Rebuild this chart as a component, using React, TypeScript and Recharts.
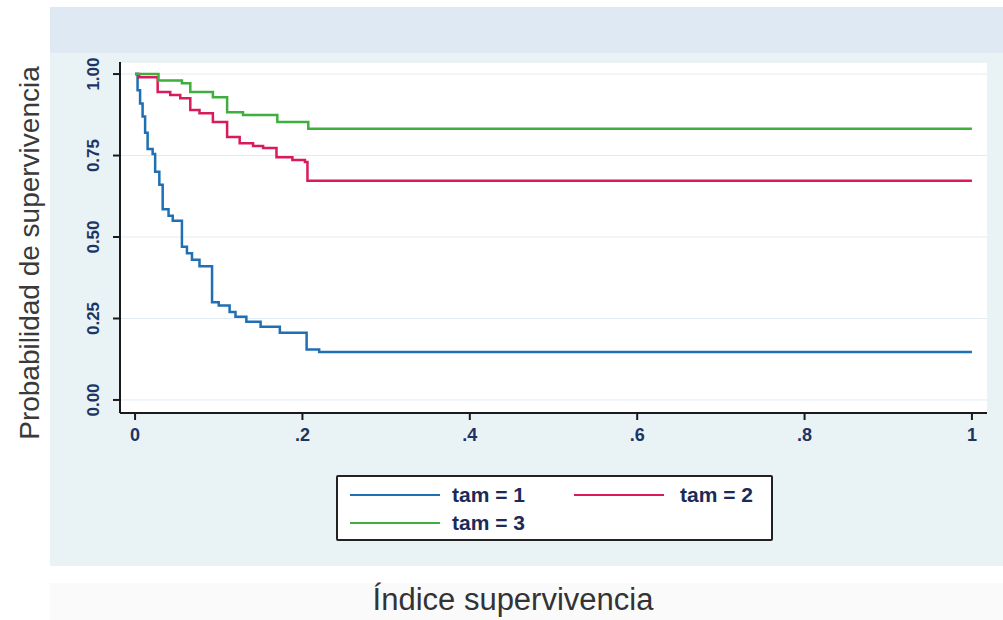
import React from 'react';
import { LineChart, Line, XAxis, YAxis, CartesianGrid, Legend } from 'recharts';

// Kaplan-Meier style step curves
const tam1Times = [0, 0.003, 0.006, 0.009, 0.012, 0.015, 0.021, 0.024, 0.029, 0.033, 0.04, 0.045, 0.056, 0.062, 0.068, 0.077, 0.092, 0.1, 0.113, 0.12, 0.133, 0.15, 0.173, 0.205, 0.22, 1];
const tam1Surv = [1, 0.95, 0.91, 0.87, 0.82, 0.77, 0.755, 0.7, 0.66, 0.585, 0.565, 0.55, 0.47, 0.45, 0.43, 0.41, 0.3, 0.29, 0.27, 0.255, 0.24, 0.225, 0.206, 0.155, 0.147, 0.147];

const tam2Times = [0, 0.005, 0.027, 0.042, 0.054, 0.066, 0.077, 0.093, 0.11, 0.125, 0.141, 0.153, 0.169, 0.188, 0.203, 0.206, 1];
const tam2Surv = [1, 0.99, 0.945, 0.936, 0.926, 0.89, 0.88, 0.853, 0.807, 0.788, 0.779, 0.773, 0.745, 0.736, 0.73, 0.673, 0.673];

const tam3Times = [0, 0.028, 0.056, 0.066, 0.093, 0.11, 0.129, 0.17, 0.207, 1];
const tam3Surv = [1, 0.98, 0.972, 0.945, 0.929, 0.883, 0.874, 0.853, 0.832, 0.832];

const seriesNames = ['tam = 1', 'tam = 2', 'tam = 3'];
const seriesColors = ['#1f6fb4', '#d81b5c', '#3fae3f'];

const xTicks = [0, 0.2, 0.4, 0.6, 0.8, 1];
const xTickLabels = ['0', '.2', '.4', '.6', '.8', '1'];
const yTicks = [0, 0.25, 0.5, 0.75, 1];
const yTickLabels = ['0.00', '0.25', '0.50', '0.75', '1.00'];

const toPoints = (times: number[], surv: number[]) => times.map((t, i) => ({ t, s: surv[i] }));

const series = [
  toPoints(tam1Times, tam1Surv),
  toPoints(tam2Times, tam2Surv),
  toPoints(tam3Times, tam3Surv),
];

const tickColor = '#1c3564';

const YTick = (props: any) => {
  const { x, y, payload } = props;
  const i = yTicks.indexOf(payload.value);
  const tx = x - 12;
  return (
    <text x={tx} y={y} transform={`rotate(-90 ${tx} ${y})`} textAnchor="middle" fill={tickColor}
      fontSize={17} fontWeight="bold" fontFamily="Liberation Sans, Arial, sans-serif">
      {yTickLabels[i]}
    </text>
  );
};

const XTick = (props: any) => {
  const { x, y, payload } = props;
  const i = xTicks.indexOf(payload.value);
  return (
    <text x={x} y={y + 19} textAnchor="middle" fill={tickColor} fontSize={18} fontWeight="bold"
      fontFamily="Liberation Sans, Arial, sans-serif">
      {xTickLabels[i]}
    </text>
  );
};

const LegendBox = () => (
  <div style={{
    position: 'absolute', left: 336, top: 475, width: 433, height: 62, background: '#fff',
    border: '2px solid #222', borderRadius: 2, fontFamily: 'Liberation Sans, Arial, sans-serif',
    fontWeight: 'bold', fontSize: 21, color: '#1c2a58',
  }}>
    {seriesNames.map((name, i) => {
      const col = i % 2;
      const row = Math.floor(i / 2);
      const left = col === 0 ? 12 : 236;
      const top = row === 0 ? 8 : 36;
      return (
        <div key={name} style={{ position: 'absolute', left, top, display: 'flex', alignItems: 'center', height: 20 }}>
          <div style={{ width: 90, height: 2, background: seriesColors[i] }} />
          <span style={{ marginLeft: col === 0 ? 12 : 16 }}>{name}</span>
        </div>
      );
    })}
  </div>
);

export default function App() {
  return (
    <div style={{ position: 'absolute', left: 0, top: 0, width: 1003, height: 620, background: '#fff', overflow: 'hidden' }}>
      <div style={{ position: 'absolute', left: 50, top: 7, width: 953, height: 559, background: '#e9f2f5' }} />
      <div style={{ position: 'absolute', left: 50, top: 7, width: 953, height: 46, background: '#dfe9f3' }} />
      <div style={{ position: 'absolute', left: 50, top: 583, width: 953, height: 37, background: '#fafafa' }} />
      <div style={{ position: 'absolute', left: 0, top: 0 }}>
        <LineChart width={1003} height={620} margin={{ top: 62, right: 16, bottom: 167, left: 50 }}>
          <CartesianGrid vertical={false} stroke="#e2ebf1" fill="#ffffff" />
          <XAxis dataKey="t" type="number" domain={[-0.018, 1.018]} ticks={xTicks} tick={<XTick />}
            tickSize={7} height={40} stroke="#1a1a1a" strokeWidth={2} allowDuplicatedCategory={false} />
          <YAxis type="number" domain={[-0.04, 1.037]} ticks={yTicks} tick={<YTick />}
            tickSize={7} width={70} stroke="#1a1a1a" strokeWidth={2} />
          {series.map((d, i) => (
            <Line key={seriesNames[i]} data={d} dataKey="s" name={seriesNames[i]} type="stepAfter"
              stroke={seriesColors[i]} strokeWidth={2.5} dot={false} isAnimationActive={false} />
          ))}
          <Legend content={() => null} />
        </LineChart>
      </div>
      <LegendBox />
      <div style={{
        position: 'absolute', left: 30, top: 253, transform: 'translate(-50%, -50%) rotate(-90deg)',
        whiteSpace: 'nowrap', fontFamily: 'Liberation Sans, Arial, sans-serif', fontSize: 28, color: '#3a3a3a',
      }}>
        Probabilidad de supervivencia
      </div>
      <div style={{
        position: 'absolute', left: 513, top: 600, transform: 'translate(-50%, -50%)',
        whiteSpace: 'nowrap', fontFamily: 'Liberation Sans, Arial, sans-serif', fontSize: 31, color: '#333',
      }}>
        Índice supervivencia
      </div>
    </div>
  );
}
